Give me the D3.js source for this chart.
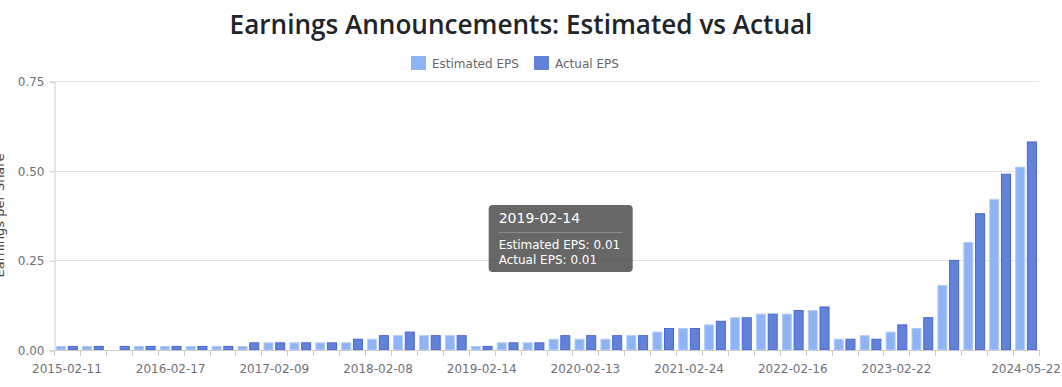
<!DOCTYPE html>
<html>
<head>
<meta charset="utf-8">
<script src="https://cdn.jsdelivr.net/npm/d3@7"></script>
<style>
  body { margin: 0; background: #fff; }
  svg { display: block; font-family: "DejaVu Sans", Verdana, sans-serif; }
</style>
</head>
<body>
<svg id="main-svg" width="1062" height="387"></svg>
<script>
// quarterly announcement dates
const dates = [
  '2015-02-11', '2015-05-07', '2015-08-06', '2015-11-05',
  '2016-02-17', '2016-05-12', '2016-08-11', '2016-11-10',
  '2017-02-09', '2017-05-09', '2017-08-10', '2017-11-09',
  '2018-02-08', '2018-05-10', '2018-08-16', '2018-11-15',
  '2019-02-14', '2019-05-16', '2019-08-15', '2019-11-14',
  '2020-02-13', '2020-05-21', '2020-08-19', '2020-11-18',
  '2021-02-24', '2021-05-26', '2021-08-18', '2021-11-17',
  '2022-02-16', '2022-05-25', '2022-08-24', '2022-11-16',
  '2023-02-22', '2023-05-24', '2023-08-23', '2023-11-21',
  '2024-02-21', '2024-05-22'
];
const estimatedEPS = [
  0.01, 0.01, 0.00, 0.01, 0.01, 0.01, 0.01, 0.01, 0.02, 0.02,
  0.02, 0.02, 0.03, 0.04, 0.04, 0.04, 0.01, 0.02, 0.02, 0.03,
  0.03, 0.03, 0.04, 0.05, 0.06, 0.07, 0.09, 0.10, 0.10, 0.11,
  0.03, 0.04, 0.05, 0.06, 0.18, 0.30, 0.42, 0.51
];
const actualEPS = [
  0.01, 0.01, 0.01, 0.01, 0.01, 0.01, 0.01, 0.02, 0.02, 0.02,
  0.02, 0.03, 0.04, 0.05, 0.04, 0.04, 0.01, 0.02, 0.02, 0.04,
  0.04, 0.04, 0.04, 0.06, 0.06, 0.08, 0.09, 0.10, 0.11, 0.12,
  0.03, 0.03, 0.07, 0.09, 0.25, 0.38, 0.49, 0.58
];
const xTickLabels = [
  '2015-02-11', '2016-02-17', '2017-02-09', '2018-02-08', '2019-02-14',
  '2020-02-13', '2021-02-24', '2022-02-16', '2023-02-22', '2024-05-22'
];
const yTicks = [0, 0.25, 0.5, 0.75];
const seriesNames = ['Estimated EPS', 'Actual EPS'];
const tooltipDate = '2019-02-14';

var colors = {
  'Estimated EPS': { fill: '#8fb4f5', stroke: '#b3ccf8' },
  'Actual EPS': { fill: '#6282da', stroke: '#4767d0' }
};

var svg = d3.select('#main-svg');
var plotLeft = 54, plotRight = 1039, plotTop = 81, plotBottom = 350;

var rows = dates.map(function(d, i) {
  return { date: d, 'Estimated EPS': estimatedEPS[i], 'Actual EPS': actualEPS[i] };
});

var x0 = d3.scaleBand().domain(dates).range([plotLeft, plotRight])
  .paddingInner(0.2).paddingOuter(0.1);
var x1 = d3.scaleBand().domain(seriesNames).range([0, x0.bandwidth()])
  .paddingInner(0.2308);
var y = d3.scaleLinear().domain([0, 0.75]).range([plotBottom, plotTop]);
var step = x0.step();

// Title
var title = svg.append('text')
  .attr('x', 521)
  .attr('y', 34)
  .attr('text-anchor', 'middle')
  .style('font-family', '"Open Sans", "Noto Sans", sans-serif')
  .style('font-weight', 600)
  .style('font-size', '28px')
  .attr('fill', '#212529')
  .text('Earnings Announcements: Estimated vs Actual');
var tw = title.node().getComputedTextLength();
title.style('font-size', (28 * 583 / tw) + 'px');

// Legend
var legendPos = [411, 534];
seriesNames.forEach(function(name, i) {
  var g = svg.append('g').attr('transform', 'translate(' + legendPos[i] + ',56)');
  g.append('rect')
    .attr('width', 15).attr('height', 14)
    .attr('fill', colors[name].fill);
  g.append('text')
    .attr('x', 21).attr('y', 11.5)
    .style('font-size', '12px')
    .attr('fill', '#666')
    .text(name);
});

// Grid lines
svg.append('g').selectAll('line')
  .data(yTicks.slice(1))
  .enter().append('line')
  .attr('x1', plotLeft).attr('x2', plotRight)
  .attr('y1', function(d) { return Math.round(y(d)) + 0.5; })
  .attr('y2', function(d) { return Math.round(y(d)) + 0.5; })
  .attr('stroke', '#e3e3e3');

// Y axis
var yAxis = svg.append('g')
  .attr('transform', 'translate(' + (plotLeft + 0.5) + ',0.5)')
  .call(d3.axisLeft(y).tickValues(yTicks).tickFormat(d3.format('.2f')).tickSize(5).tickPadding(5));
yAxis.select('.domain').attr('stroke', '#ccc');
yAxis.selectAll('.tick line').attr('stroke', '#ccc');
yAxis.selectAll('.tick text')
  .style('font-size', '12px')
  .style('font-family', '"DejaVu Sans", Verdana, sans-serif')
  .attr('fill', '#6e7079');

svg.append('text')
  .attr('transform', 'translate(4,' + ((plotTop + plotBottom) / 2) + ') rotate(-90)')
  .attr('text-anchor', 'middle')
  .style('font-size', '13px')
  .attr('fill', '#444')
  .text('Earnings per Share');

// Bars
var groups = svg.append('g').selectAll('g')
  .data(rows)
  .enter().append('g')
  .attr('transform', function(d) { return 'translate(' + x0(d.date) + ',0)'; });

groups.selectAll('rect')
  .data(function(d) { return seriesNames.map(function(k) { return { key: k, value: d[k] }; }); })
  .enter().append('rect')
  .attr('x', function(d) { return x1(d.key); })
  .attr('y', function(d) { return y(d.value); })
  .attr('width', x1.bandwidth())
  .attr('height', function(d) { return plotBottom - y(d.value); })
  .attr('fill', function(d) { return colors[d.key].fill; })
  .attr('stroke', function(d) { return colors[d.key].stroke; })
  .attr('stroke-width', 1);

// X axis: tick marks at each band boundary, labels on chosen dates
var xAxis = svg.append('g');
xAxis.append('line')
  .attr('x1', plotLeft).attr('x2', plotRight)
  .attr('y1', plotBottom + 0.5).attr('y2', plotBottom + 0.5)
  .attr('stroke', '#ccc');
xAxis.selectAll('.xtick')
  .data(dates.concat(['end']))
  .enter().append('line')
  .attr('class', 'xtick')
  .attr('x1', function(d, i) { return Math.round(plotLeft + i * step) + 0.5; })
  .attr('x2', function(d, i) { return Math.round(plotLeft + i * step) + 0.5; })
  .attr('y1', plotBottom).attr('y2', plotBottom + 6)
  .attr('stroke', '#ccc');
xAxis.selectAll('.xlabel')
  .data(xTickLabels)
  .enter().append('text')
  .attr('class', 'xlabel')
  .attr('x', function(d) { return x0(d) + x0.bandwidth() / 2; })
  .attr('y', 373)
  .attr('text-anchor', 'middle')
  .style('font-size', '12px')
  .attr('fill', '#6e7079')
  .text(function(d) { return d; });

// Tooltip shown on one announcement
var tipRow = rows[dates.indexOf(tooltipDate)];
var tx = x0(tooltipDate) + x0.bandwidth() / 2 + 7, ty = 205;
var tip = svg.append('g').attr('transform', 'translate(' + tx + ',' + ty + ')');
tip.append('rect')
  .attr('width', 144).attr('height', 67)
  .attr('rx', 4).attr('ry', 4)
  .attr('fill', 'rgba(70,70,70,0.82)');
tip.append('text')
  .attr('x', 10).attr('y', 18)
  .style('font-size', '14px')
  .attr('fill', '#fff')
  .text(tipRow.date);
tip.append('line')
  .attr('x1', 10).attr('x2', 134)
  .attr('y1', 27.5).attr('y2', 27.5)
  .attr('stroke', '#8a8a8a');
seriesNames.forEach(function(name, i) {
  tip.append('text')
    .attr('x', 10).attr('y', 44 + i * 15)
    .style('font-size', '12px')
    .attr('fill', '#fff')
    .text(name + ': ' + tipRow[name].toFixed(2));
});
</script>
</body>
</html>
